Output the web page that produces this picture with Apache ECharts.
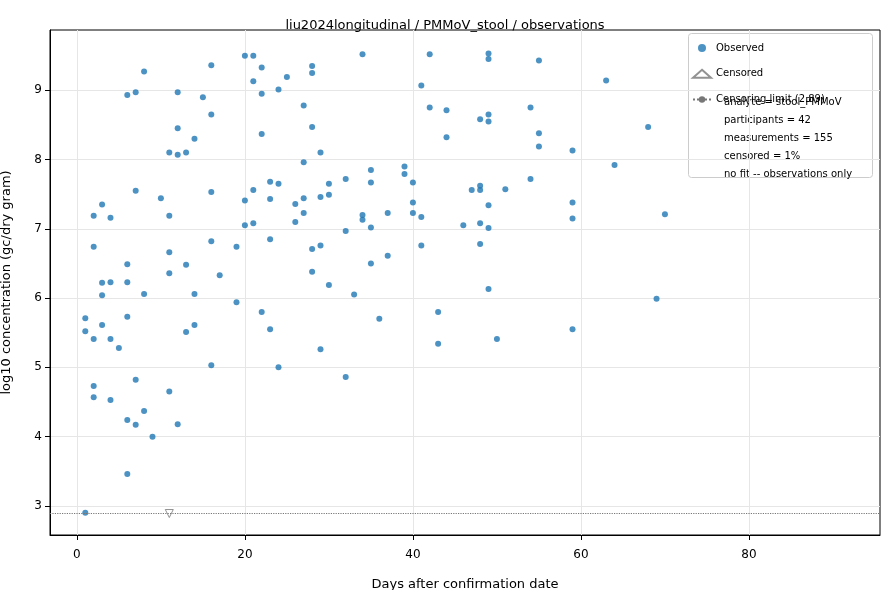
<!DOCTYPE html>
<title>observations</title>
<style>
body {margin: 0; background: #fff;}
#echart {height: 590px; width: 890px;}
</style>
<div id='echart'></div>
<script src='https://cdn.jsdelivr.net/npm/echarts@6/dist/echarts.min.js'></script>
<script>
// [day, log10 concentration]
let observed = [
	[1,2.9],[1,5.71],[1,5.52],[2,6.74],[2,7.19],[2,5.41],[2,4.73],[2,4.57],[3,7.35],[3,6.22],[3,6.04],[3,5.61],
	[4,7.16],[4,6.23],[4,5.41],[4,4.53],[5,5.28],[6,8.93],[6,6.49],[6,6.23],[6,5.73],[6,4.24],[6,3.46],
	[7,8.97],[7,7.55],[7,4.82],[7,4.17],[8,9.27],[8,6.06],[8,4.37],[9,4.0],[10,7.44],
	[11,8.1],[11,7.19],[11,6.66],[11,6.36],[11,4.65],[12,8.97],[12,8.45],[12,8.07],[12,4.18],
	[13,8.1],[13,6.48],[13,5.51],[14,8.3],[14,6.06],[14,5.61],[15,8.9],
	[16,9.36],[16,8.65],[16,7.53],[16,6.82],[16,5.03],[17,6.33],[19,6.74],[19,5.94],
	[20,9.5],[20,7.41],[20,7.05],[21,9.5],[21,9.13],[21,7.56],[21,7.08],
	[22,9.33],[22,8.95],[22,8.37],[22,5.8],[23,7.68],[23,7.43],[23,6.85],[23,5.55],
	[24,9.01],[24,7.65],[24,5.0],[25,9.19],[26,7.36],[26,7.1],[27,8.78],[27,7.96],[27,7.44],[27,7.23],
	[28,9.35],[28,9.25],[28,8.47],[28,6.71],[28,6.38],[29,8.1],[29,7.46],[29,6.76],[29,5.26],
	[30,7.65],[30,7.49],[30,6.19],[32,7.72],[32,6.97],[32,4.86],[33,6.05],
	[34,9.52],[34,7.2],[34,7.13],[35,7.85],[35,7.67],[35,7.02],[35,6.5],[36,5.7],[37,7.23],[37,6.61],
	[39,7.9],[39,7.79],[40,7.67],[40,7.38],[40,7.23],[41,9.07],[41,7.17],[41,6.76],[42,9.52],[42,8.75],
	[43,5.8],[43,5.34],[44,8.71],[44,8.32],[46,7.05],[47,7.56],
	[48,7.62],[48,7.56],[48,8.58],[48,7.08],[48,6.78],
	[49,9.53],[49,9.45],[49,8.65],[49,8.55],[49,7.34],[49,7.01],[49,6.13],[50,5.41],[51,7.57],
	[54,8.75],[54,7.72],[55,9.43],[55,8.38],[55,8.19],[59,8.13],[59,7.38],[59,7.15],[59,5.55],
	[63,9.14],[64,7.92],[68,8.47],[69,5.99],[70,7.21]
]
let censored = [[11,2.89]]
let limit = 2.89
let x_ticks = [0,20,40,60,80]
let y_ticks = [3,4,5,6,7,8,9]
let notes = ['analyte = stool_PMMoV','participants = 42','measurements = 155','censored = 1%','no fit -- observations only']

let font = 'DejaVu Sans'
let echart = echarts.init(document.querySelector('#echart'))
let axis_common = {
	axisLine: {show: true, onZero: false, lineStyle: {color: '#000'}},
	axisTick: {show: true, lineStyle: {color: '#000'}},
	axisLabel: {color: '#000', fontFamily: font, fontSize: 12},
	splitLine: {show: true, lineStyle: {color: '#e6e6e6'}},
	nameTextStyle: {color: '#000', fontFamily: font, fontSize: 13},
}
echart.setOption({
	animation: false,
	textStyle: {fontFamily: font},
	title: {text: 'liu2024longitudinal / PMMoV_stool / observations', left: 'center', top: 8,
		textStyle: {fontFamily: font, fontSize: 13, fontWeight: 'normal', color: '#000'}},
	grid: {left: 50, right: 10, top: 30, bottom: 55, outerBoundsMode: 'none', containLabel: false,
		show: true, borderColor: '#000', borderWidth: 1},
	xAxis: Object.assign({}, axis_common, {type: 'value', min: -3.2, max: 95.6, name: 'Days after confirmation date',
		nameLocation: 'middle', nameGap: 28,
		axisLabel: Object.assign({}, axis_common.axisLabel, {customValues: x_ticks}),
		axisTick: Object.assign({}, axis_common.axisTick, {customValues: x_ticks})}),
	yAxis: Object.assign({}, axis_common, {type: 'value', min: 2.58, max: 9.87, name: 'log10 concentration (gc/dry gram)',
		nameLocation: 'middle', nameGap: 30,
		axisLabel: Object.assign({}, axis_common.axisLabel, {customValues: y_ticks}),
		axisTick: Object.assign({}, axis_common.axisTick, {customValues: y_ticks})}),
	legend: {left: 692, top: 38, orient: 'vertical', itemGap: 6, itemWidth: 18, itemHeight: 8, padding: 0,
		textStyle: {fontFamily: font, fontSize: 10, color: '#000', lineHeight: 12},
		data: [{name: 'Observed', icon: 'circle'}, {name: 'Censored', icon: 'triangle'}, {name: 'Censoring limit (2.89)'}]},
	graphic: [
		{type: 'rect', left: 688, top: 33, shape: {width: 184, height: 144, r: 3}, z: -1,
			style: {fill: '#fff', stroke: '#ccc'}},
		{type: 'text', left: 724, top: 92, style: {text: notes.join('\n'), lineHeight: 18,
			font: '10px "DejaVu Sans"', fill: '#000'}},
	],
	series: [
		{type: 'scatter', name: 'Observed', data: observed, symbolSize: 6,
			itemStyle: {color: '#1f77b4', opacity: 0.8}},
		{type: 'scatter', name: 'Censored', data: censored, symbol: 'triangle', symbolRotate: 180, symbolSize: 8,
			itemStyle: {color: '#fff', borderColor: '#777', borderWidth: 1}},
		{type: 'line', name: 'Censoring limit (2.89)', data: [], symbol: 'none', showSymbol: false,
			lineStyle: {color: '#777', type: 'dotted', width: 1.2}, itemStyle: {color: '#777'},
			markLine: {silent: true, symbol: 'none', label: {show: false},
				lineStyle: {color: '#777', type: 'dotted', width: 1.2}, data: [{yAxis: limit}]}},
	],
})
</script>
